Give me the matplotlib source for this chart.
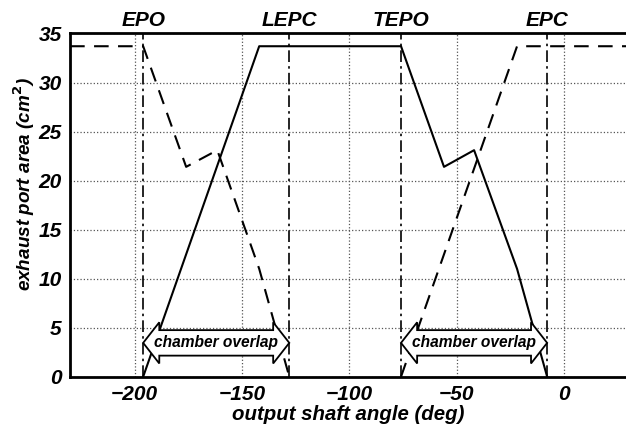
import numpy as np
import matplotlib.pyplot as plt
from matplotlib.patches import Polygon

plt.rcParams['font.family'] = ['Liberation Sans', 'DejaVu Sans']

# port events (deg)
events = ['EPO', 'LEPC', 'TEPO', 'EPC']
event_x = [-196, -128, -76, -8]

# exhaust port area of the two chambers (nan = gap where the area is zero)
solid_x = [-196, -142, -76, -56, -42, -22, -8]
solid_y = [0, 33.7, 33.7, 21.4, 23.1, 11.0, 0]
dashed_x = [-230, -196, -176, -161.5, -142, -128, np.nan, -76, -22, 30]
dashed_y = [33.7, 33.7, 21.4, 23.1, 11.0, 0, np.nan, 0, 33.7, 33.7]

overlaps = [(-196, -128), (-76, -8)]

xticks = [-200, -150, -100, -50, 0]
yticks = [0, 5, 10, 15, 20, 25, 30, 35]

fig = plt.figure(figsize=(6.26, 4.26), dpi=100)
ax = fig.add_axes([0.112, 0.1157, 0.888, 0.8057])

ax.grid(True, linestyle=':', color='#555555', linewidth=0.9)
ax.set_axisbelow(True)

ax.plot(solid_x, solid_y, color='black', linewidth=1.5, zorder=3)
ax.plot(dashed_x, dashed_y, color='black', linewidth=1.5, dashes=(7, 4.5), zorder=3)

for name, xv in zip(events, event_x):
    ax.plot([xv, xv], [0, 35], color='black', linewidth=1.2, dashes=(7, 2.5, 1.5, 2.5), zorder=3)
    ax.text(xv, 35.75, name, ha='center', va='baseline', fontsize=15,
            fontweight='bold', fontstyle='italic')

# double arrows "chamber overlap"
yc, hb, hh, hl = 3.45, 1.3, 2.1, 7.5
for x0, x1 in overlaps:
    pts = [(x0, yc), (x0 + hl, yc + hh), (x0 + hl, yc + hb), (x1 - hl, yc + hb),
           (x1 - hl, yc + hh), (x1, yc), (x1 - hl, yc - hh), (x1 - hl, yc - hb),
           (x0 + hl, yc - hb), (x0 + hl, yc - hh)]
    ax.add_patch(Polygon(pts, closed=True, facecolor='white', edgecolor='black',
                         linewidth=1.3, zorder=5))
    ax.text((x0 + x1) / 2, yc, 'chamber overlap', ha='center', va='center',
            fontsize=11.2, fontweight='bold', fontstyle='italic', zorder=6)

ax.set_xlim(-230, 28.7)
ax.set_ylim(0, 35)
ax.set_xticks(xticks)
ax.set_yticks(yticks)
ax.set_xticklabels(['\u2212' + str(-t) if t < 0 else str(t) for t in xticks])
ax.tick_params(length=0, pad=6, labelsize=15)
for label in ax.get_xticklabels() + ax.get_yticklabels():
    label.set_fontweight('bold')
    label.set_fontstyle('italic')

for s in ['left', 'bottom', 'top']:
    ax.spines[s].set_linewidth(2)
    ax.spines[s].set_zorder(4)
ax.spines['right'].set_visible(False)

ax.set_xlabel('output shaft angle (deg)', fontsize=14.7, fontweight='bold',
              fontstyle='italic', labelpad=1)
ax.set_ylabel('exhaust port area (cm$^{\\mathbf{2}}$)', fontsize=13.6, fontweight='bold',
              fontstyle='italic')
ax.yaxis.set_label_coords(-0.06, 0.56)

fig.savefig('out.png', dpi=100)
